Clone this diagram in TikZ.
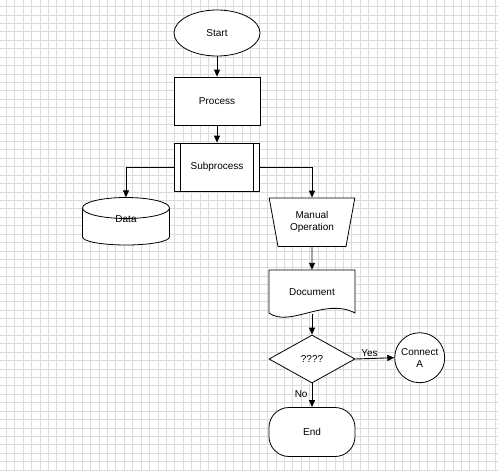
\documentclass[tikz,border=0pt]{standalone}
\usepackage{fontspec}
\setmainfont{Liberation Sans}
\usetikzlibrary{calc}
\usetikzlibrary{arrows.meta}
\usetikzlibrary{shapes.geometric}

\begin{document}
\begin{tikzpicture}[x=1pt,y=-1pt,
    font=\fontsize{10}{12}\selectfont,
    gridline/.style={draw=gray!28,line width=0.8pt},
    box/.style={draw,fill=white,line width=0.8pt,minimum width=86pt,minimum height=48pt,inner sep=0pt},
    flow/.style={line width=0.9pt,arrows=-{Triangle[length=7pt,width=6pt]}}]
    \fill [white] (0,0) rectangle (498,471);
    \useasboundingbox (0,0) rectangle (498,471);
    \foreach \i in {0,...,58} \draw [gridline] ({6.2+8.43*\i},0) -- ++(0,471);
    \foreach \j in {0,...,55} \draw [gridline] (0,{6.5+8.43*\j}) -- ++(498,0);

    \node [box,ellipse,minimum height=46pt] (start) at (217,33) {Start};
    \node [box] (process) at (217,101) {Process};
    \node [box,minimum width=85pt] (sub) at (217,167) {Subprocess};
    \draw [line width=0.8pt] ($(sub.north west)+(6.5,0)$) -- ($(sub.south west)+(6.5,0)$);
    \draw [line width=0.8pt] ($(sub.north east)+(-6.5,0)$) -- ($(sub.south east)+(-6.5,0)$);

    \filldraw [fill=white,line width=0.8pt] (82.5,208) -- (82.5,237)
        arc [start angle=180,end angle=360,x radius=43.5pt,y radius=8pt] -- (169.5,208)
        arc [start angle=0,end angle=180,x radius=43.5pt,y radius=10.5pt] -- cycle;
    \draw [line width=0.8pt] (82.5,208) arc [start angle=180,end angle=360,x radius=43.5pt,y radius=10.5pt];
    \node [minimum width=87pt,minimum height=44pt,inner sep=0pt] (data) at (126,219.5) {Data};

    \node [box,trapezium,trapezium stretches=true,shape border rotate=180,
        trapezium left angle=75,trapezium right angle=75,minimum height=48.5pt,align=center]
        (manual) at (312,222.3) {Manual\\Operation};

    \filldraw [fill=white,line width=0.8pt] (269,270) -- (355,270) -- (355,313)
        .. controls (325,297) and (290,328) .. (269,313) -- cycle;
    \node [minimum width=86pt,minimum height=44pt,inner sep=0pt] (doc) at (312,292) {Document};

    \node [box,diamond,aspect=1.8] (dec) at (312,359) {????};
    \node [box,circle,minimum size=50pt,align=center] (conn) at (419.7,357.7) {Connect\\A};
    \node [box,rounded corners=20pt,minimum height=49pt] (end) at (312,432) {End};

    \draw [flow] (start) -- (process);
    \draw [flow] (process) -- (sub);
    \draw [flow] (sub.west) -| (data.north);
    \draw [flow] (sub.east) -| (manual.north);
    \draw [flow] (manual.south) -- (doc.north);
    \draw [flow] (doc.south) -- (dec.north);
    \draw [flow] (dec.east) -- node [above,pos=0.36,inner sep=1.5pt] {Yes} (conn.west);
    \draw [flow] (dec.south) -- node [left,pos=0.45,inner sep=4pt] {No} (end.north);
\end{tikzpicture}
\end{document}
